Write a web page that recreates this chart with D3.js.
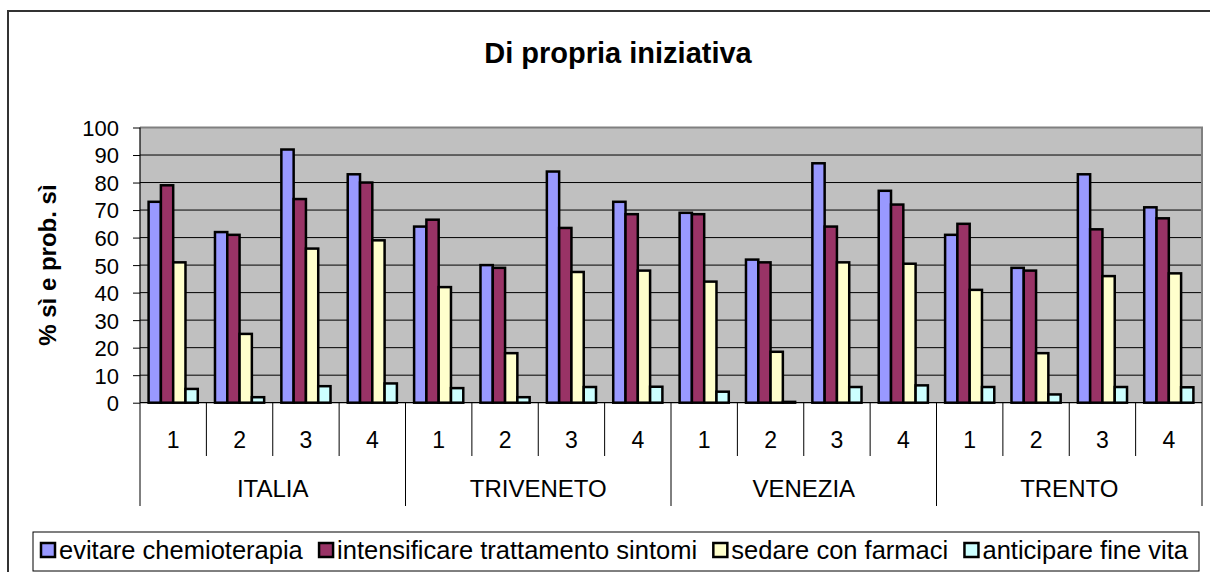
<!DOCTYPE html>
<html><head><meta charset="utf-8">
<script src="https://cdn.jsdelivr.net/npm/d3@7"></script>
<style>html,body{margin:0;padding:0;background:#fff;overflow:hidden}text{font-family:"Liberation Sans",Arial,sans-serif}</style>
</head><body><svg id="c" width="1210" height="572"></svg>
<script>
const groups = ["ITALIA", "TRIVENETO", "VENEZIA", "TRENTO"];
const subs = ["1", "2", "3", "4"];
const seriesNames = ["evitare chemioterapia", "intensificare trattamento sintomi", "sedare con farmaci", "anticipare fine vita"];
const evitare =       [73, 62, 92, 83,   64, 50, 84, 73,   69, 52, 87, 77,   61, 49, 83, 71];
const intensificare = [79, 61, 74, 80,   66.5, 49, 63.5, 68.5,   68.5, 51, 64, 72,   65, 48, 63, 67];
const sedare =        [51, 25, 56, 59,   42, 18, 47.5, 48,   44, 18.5, 51, 50.5,   41, 18, 46, 47];
const anticipare =    [5, 2, 6, 7,   5.3, 2, 5.7, 5.8,   4, 0.3, 5.7, 6.3,   5.7, 3, 5.7, 5.6];
const yTicks = [0, 10, 20, 30, 40, 50, 60, 70, 80, 90, 100];
const colors = ["#9999FF", "#993366", "#FFFFCC", "#CCFFFF"];
const title = "Di propria iniziativa";
const yTitle = "% sì e prob. sì";

const values = [evitare, intensificare, sedare, anticipare];
const cats = [];
groups.forEach(g => subs.forEach(s => cats.push(g + "|" + s)));

const svg = d3.select("#c");
const L = 140, R = 1202, T = 127.5, B = 402.7;

// outer frame
svg.append("rect").attr("x", 8).attr("y", 11).attr("width", 1250).attr("height", 620)
  .attr("fill", "#fff").attr("stroke", "#333").attr("stroke-width", 2);

svg.append("text").attr("x", 618).attr("y", 63).attr("text-anchor", "middle")
  .attr("font-size", 29).attr("font-weight", "bold").text(title);

const x = d3.scaleBand().domain(cats).range([L, R]).padding(0);
const xs = d3.scaleBand().domain(d3.range(4)).range([0, x.bandwidth()]).paddingInner(0).paddingOuter(0.7);
const y = d3.scaleLinear().domain([0, 100]).range([B, T]);

// plot area
svg.append("rect").attr("x", L).attr("y", T).attr("width", R - L).attr("height", B - T).attr("fill", "#C0C0C0");
svg.append("g").selectAll("line").data(yTicks.slice(1)).join("line")
  .attr("x1", L).attr("x2", R).attr("y1", d => y(d)).attr("y2", d => y(d))
  .attr("stroke", "#000").attr("stroke-width", 1);
svg.append("path").attr("d", `M${L},${T}H${R}V${B}`).attr("fill", "none").attr("stroke", "#808080").attr("stroke-width", 2);

// bars
values.forEach((vals, si) => {
  svg.append("g").selectAll("rect").data(vals).join("rect")
    .attr("x", (d, i) => x(cats[i]) + xs(si))
    .attr("width", xs.bandwidth())
    .attr("y", d => y(d))
    .attr("height", d => B - y(d))
    .attr("fill", colors[si]).attr("stroke", "#000").attr("stroke-width", 2.5);
});

// y axis
const yAxis = d3.axisLeft(y).tickValues(yTicks).tickSize(7).tickPadding(14).tickFormat(d3.format("d"));
const ya = svg.append("g").attr("transform", `translate(${L},0)`).call(yAxis);
ya.select(".domain").attr("stroke", "#000").attr("stroke-width", 1.2).attr("d", `M0,${T}V${B}`);
ya.selectAll("text").attr("font-size", 22).attr("fill", "#000").attr("font-family", "Liberation Sans, Arial, sans-serif").attr("dy", "0.36em");

// x axis base line
svg.append("line").attr("x1", L).attr("x2", R).attr("y1", B).attr("y2", B).attr("stroke", "#000").attr("stroke-width", 1.2);

// category separators
const bounds = cats.map(c => x(c)).concat([R]);
svg.append("g").selectAll("line").data(bounds).join("line")
  .attr("x1", d => d).attr("x2", d => d).attr("y1", B)
  .attr("y2", (d, i) => (i % 4 === 0) ? 506 : 456)
  .attr("stroke", "#000").attr("stroke-width", 1);

svg.append("g").selectAll("text").data(cats).join("text")
  .attr("x", d => x(d) + x.bandwidth() / 2).attr("y", 448).attr("text-anchor", "middle")
  .attr("font-size", 23).text(d => d.split("|")[1]);
svg.append("g").selectAll("text").data(groups).join("text")
  .attr("x", g => (x(g + "|1") + x(g + "|4") + x.bandwidth()) / 2).attr("y", 497).attr("text-anchor", "middle")
  .attr("font-size", 24).text(d => d);

// y title
svg.append("text").attr("transform", `translate(56,${(T + B) / 2}) rotate(-90)`).attr("text-anchor", "middle")
  .attr("font-size", 24).attr("font-weight", "bold").text(yTitle);

// legend
svg.append("rect").attr("x", 33).attr("y", 532).attr("width", 1166).attr("height", 39)
  .attr("fill", "#fff").attr("stroke", "#000").attr("stroke-width", 1);
const lg = svg.append("g");
const items = seriesNames.map((n, i) => {
  const g = lg.append("g");
  g.append("rect").attr("x", 0).attr("y", -8).attr("width", 14).attr("height", 14)
    .attr("fill", colors[i]).attr("stroke", "#000").attr("stroke-width", 2.5);
  const t = g.append("text").attr("x", 18).attr("y", 8).attr("font-size", 25.5).text(n);
  return {g, w: 18 + t.node().getComputedTextLength()};
});
const start = 41, end = 1188;
const total = d3.sum(items, d => d.w);
const gap = (end - start - total) / 3;
let cx = start;
items.forEach(it => { it.g.attr("transform", `translate(${cx},551)`); cx += it.w + gap; });
</script></body></html>
